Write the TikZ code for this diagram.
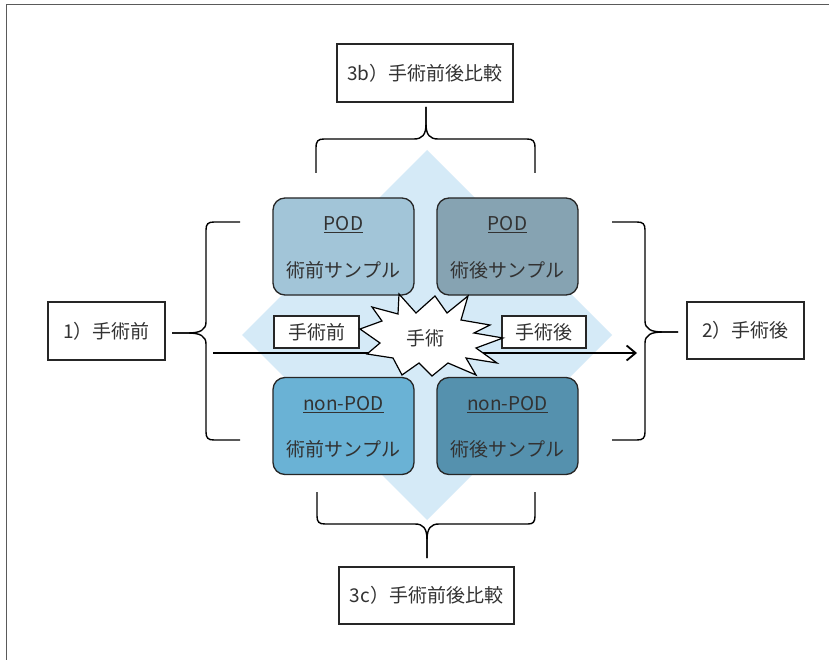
\documentclass[tikz,border=0pt]{standalone}
\usepackage{fontspec}
\setmainfont{Noto Sans CJK JP}
\usetikzlibrary{arrows.meta}
\definecolor{diam}{RGB}{213,234,247}
\definecolor{qtl}{RGB}{162,197,216}
\definecolor{qtr}{RGB}{134,163,178}
\definecolor{qbl}{RGB}{106,178,213}
\definecolor{qbr}{RGB}{85,145,174}
\definecolor{txt}{RGB}{50,50,50}
\definecolor{frame}{RGB}{90,90,90}
\newcommand{\fsz}{\fontsize{19}{23}\selectfont}
\begin{document}
\begin{tikzpicture}[x=1pt,y=-1pt,
  lbl/.style={draw=black!85, line width=1.3pt, fill=white, text=txt, font=\fsz, inner sep=0pt},
  quad/.style={draw=black!85, line width=1.3pt, rounded corners=12pt, inner sep=0pt, minimum width=141pt, minimum height=97pt},
  qtext/.style={text=txt, font=\fsz, inner sep=0pt},
  brace/.style={draw=black, line width=1.4pt},
]
\useasboundingbox (0,0) rectangle (829,660);
\fill[white] (0,0) rectangle (829,660);
\draw[frame, line width=1pt] (6,5) rectangle (845,680);

% diamond
\fill[diam] (427,150) -- (612,335) -- (427,520) -- (242,335) -- cycle;

% quadrant boxes
\node[quad, fill=qtl] (tl) at (343.5,246.5) {};
\node[quad, fill=qtr] (tr) at (507.5,246.5) {};
\node[quad, fill=qbl] (bl) at (343.5,426) {};
\node[quad, fill=qbr] (br) at (507.5,426) {};
\node[qtext] (tlA) at (343.5,225) {\underline{POD}};
\node[qtext] (tlB) at (343.5,270) {術前サンプル};
\node[qtext] (trA) at (507.5,225) {\underline{POD}};
\node[qtext] (trB) at (507.5,270) {術後サンプル};
\node[qtext] (blA) at (343.5,405) {\underline{non-POD}};
\node[qtext] (blB) at (343.5,449) {術前サンプル};
\node[qtext] (brA) at (507.5,405) {\underline{non-POD}};
\node[qtext] (brB) at (507.5,449) {術後サンプル};

% arrow
\coordinate (as) at (213,353);
\coordinate (ae) at (637,353);
\draw[line width=1.8pt, -{Straight Barb[length=9pt,width=15pt]}] (as) -- (ae);

% small boxes
\node[lbl, minimum width=85pt, minimum height=32pt] (pre) at (316.5,332) {手術前};
\node[lbl, minimum width=84pt, minimum height=32pt] (post) at (544,332) {手術後};

% starburst
\draw[fill=white, line width=1.2pt, line join=miter]
  (399,294) -- (416,313) -- (435,296) -- (447,313) -- (468,296) -- (461,320) --
  (490,325) -- (474,333) -- (503,338) -- (476,348) -- (497,363) -- (466,358) --
  (476,375) -- (448,363) -- (432,376) -- (419,363) -- (402,375) -- (393,358) --
  (367,354) -- (380,343) -- (360,329) -- (382,321) -- (372,307) -- (398,314) -- cycle;
\node[qtext] (op) at (425,338) {手術};

% label boxes
\node[lbl, minimum width=176pt, minimum height=58pt] (b3b) at (425,73) {3b）手術前後比較};
\node[lbl, minimum width=175pt, minimum height=57pt] (b3c) at (426.5,595.5) {3c）手術前後比較};
\node[lbl, minimum width=117pt, minimum height=58pt] (b1) at (106.5,331) {1）手術前};
\node[lbl, minimum width=117pt, minimum height=57pt] (b2) at (745.5,330.5) {2）手術後};

% braces
\coordinate (tt) at (426,107);
\coordinate (bt) at (427,558);
\coordinate (lt) at (172,333);
\coordinate (rt) at (678,332);
% top
\draw[brace] (316,173) -- (316,148) .. controls (316,141) and (318,139) .. (324,139) -- (414,139)
  .. controls (422,139) and (426,135) .. (426,124) -- (tt);
\draw[brace] (tt) -- (426,124) .. controls (426,135) and (430,139) .. (438,139) -- (527,139)
  .. controls (533,139) and (535,141) .. (535,148) -- (535,173);
% bottom
\draw[brace] (317,492) -- (317,516) .. controls (317,522) and (319,524) .. (325,524) -- (415,524)
  .. controls (423,524) and (427,528) .. (427,540) -- (bt);
\draw[brace] (bt) -- (427,540) .. controls (427,528) and (431,524) .. (439,524) -- (528,524)
  .. controls (533,524) and (535,522) .. (535,516) -- (535,492);
% left
\draw[brace] (240,222) -- (214,222) .. controls (208,222) and (206,224) .. (206,230) -- (206,322)
  .. controls (206,330) and (200,333) .. (188,333) -- (lt);
\draw[brace] (lt) -- (188,333) .. controls (200,333) and (206,336) .. (206,344) -- (206,432)
  .. controls (206,438) and (208,440) .. (214,440) -- (240,440);
% right
\draw[brace] (612,222) -- (637,222) .. controls (643,222) and (645,224) .. (645,230) -- (645,321)
  .. controls (645,329) and (651,332) .. (663,332) -- (rt);
\draw[brace] (rt) -- (663,332) .. controls (651,332) and (645,335) .. (645,343) -- (645,432)
  .. controls (645,438) and (643,440) .. (637,440) -- (612,440);
\end{tikzpicture}
\end{document}
